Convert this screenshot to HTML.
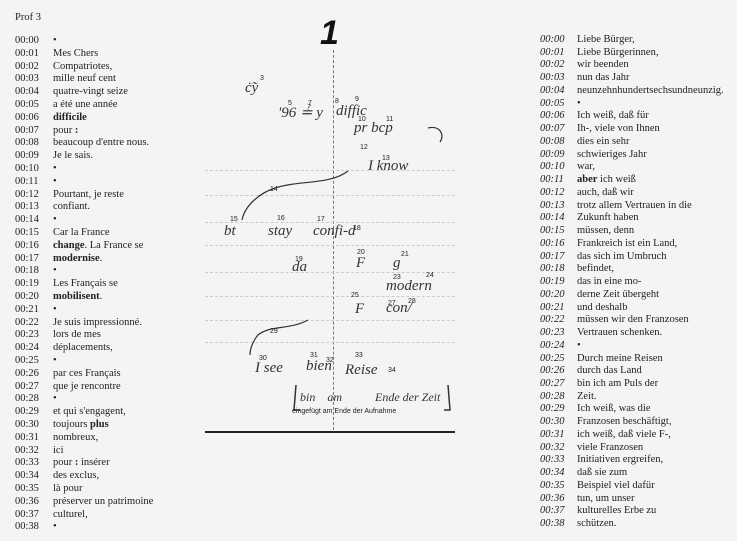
<!DOCTYPE html>
<html><head><meta charset="utf-8"><style>
body{margin:0;width:737px;height:541px;background:#f4f4f4;position:relative;overflow:hidden;font-family:"Liberation Serif",serif;color:#222}
.t{position:absolute;font-size:10.5px;line-height:12px;white-space:nowrap}
.h{position:absolute;font-family:"Liberation Serif",serif;font-style:italic;font-size:15px;color:#333;white-space:nowrap}
.n{position:absolute;font-family:"Liberation Sans",sans-serif;font-size:7px;color:#222}
.dl{position:absolute;left:205px;width:250px;border-top:1px dashed #ccc}
</style></head><body>
<div class="t" style="left:15px;top:12px">Prof 3</div>
<div id="L"></div><div id="R"></div>
<div style="position:absolute;left:333px;top:50px;height:380px;border-left:1px dashed #777"></div>
<div style="position:absolute;left:205px;top:431px;width:250px;border-top:2px solid #222"></div>
<div class="dl" style="top:170px"></div><div class="dl" style="top:195px"></div><div class="dl" style="top:222px"></div><div class="dl" style="top:245px"></div><div class="dl" style="top:272px"></div><div class="dl" style="top:296px"></div><div class="dl" style="top:320px"></div><div class="dl" style="top:342px"></div>
<div style="position:absolute;left:320px;top:14px;font-family:'Liberation Sans',sans-serif;font-size:34px;font-weight:bold;font-style:italic;color:#111">1</div>
<svg style="position:absolute;left:0;top:0" width="737" height="541" fill="none" stroke="#333" stroke-width="1.2">
<path d="M348,171 C330,185 300,180 275,188 C260,193 245,205 242,220"/>
<path d="M308,320 C290,330 270,325 258,335 C252,342 250,350 250,355"/>
<path d="M428,128 C440,125 445,135 440,142"/>
<path d="M296,385 L294,410 L300,410 M448,385 L450,410 L444,410" stroke-width="1.5"/>
</svg>
<div class="h" style="left:245px;top:80px">ċ̃y</div><div class="n" style="left:260px;top:75px">3</div>
<div class="h" style="left:278px;top:103px">'96 ≟ y</div><div class="n" style="left:288px;top:100px">5</div><div class="n" style="left:308px;top:100px">7</div>
<div class="h" style="left:336px;top:103px">diffic</div><div class="n" style="left:335px;top:98px">8</div><div class="n" style="left:355px;top:96px">9</div>
<div class="h" style="left:354px;top:120px">pr bcp</div><div class="n" style="left:358px;top:116px">10</div><div class="n" style="left:386px;top:116px">11</div>
<div class="n" style="left:360px;top:144px">12</div><div class="h" style="left:368px;top:158px">I know</div><div class="n" style="left:382px;top:155px">13</div>
<div class="n" style="left:270px;top:186px">14</div>
<div class="h" style="left:224px;top:223px">bt</div><div class="n" style="left:230px;top:216px">15</div>
<div class="h" style="left:268px;top:223px">stay</div><div class="n" style="left:277px;top:215px">16</div>
<div class="h" style="left:313px;top:223px">confi-d</div><div class="n" style="left:317px;top:216px">17</div><div class="n" style="left:353px;top:225px">18</div>
<div class="h" style="left:292px;top:259px">da</div><div class="n" style="left:295px;top:256px">19</div>
<div class="h" style="left:356px;top:255px">F</div><div class="n" style="left:357px;top:249px">20</div>
<div class="h" style="left:393px;top:255px">g</div><div class="n" style="left:401px;top:251px">21</div>
<div class="h" style="left:386px;top:278px">modern</div><div class="n" style="left:393px;top:274px">23</div><div class="n" style="left:426px;top:272px">24</div>
<div class="h" style="left:355px;top:301px">F</div><div class="n" style="left:351px;top:292px">25</div>
<div class="h" style="left:386px;top:300px">con/</div><div class="n" style="left:388px;top:300px">27</div><div class="n" style="left:408px;top:298px">28</div>
<div class="n" style="left:270px;top:328px">29</div>
<div class="h" style="left:255px;top:360px">I see</div><div class="n" style="left:259px;top:355px">30</div>
<div class="h" style="left:306px;top:358px">bien</div><div class="n" style="left:310px;top:352px">31</div><div class="n" style="left:326px;top:357px">32</div>
<div class="h" style="left:345px;top:362px">Reise</div><div class="n" style="left:355px;top:352px">33</div><div class="n" style="left:388px;top:367px">34</div>
<div class="h" style="left:300px;top:390px;font-size:12px">bin &nbsp;&nbsp;&nbsp;am &nbsp;&nbsp;&nbsp;&nbsp;&nbsp;&nbsp;&nbsp;&nbsp;&nbsp;&nbsp;Ende der Zeit</div>
<div style="position:absolute;left:292px;top:408px;font-family:'Liberation Sans',sans-serif;font-size:7px">eingefügt am Ende der Aufnahme</div>
<script>
var L=["•","Mes Chers","Compatriotes,","mille neuf cent","quatre-vingt seize","a été une année","<b>difficile</b>","pour <b>:</b>","beaucoup d'entre nous.","Je le sais.","•","•","Pourtant, je reste","confiant.","•","Car la France","<b>change</b>. La France se","<b>modernise</b>.","•","Les Français se","<b>mobilisent</b>.","•","Je suis impressionné.","lors de mes","déplacements,","•","par ces Français","que je rencontre","•","et qui s'engagent,","toujours <b>plus</b>","nombreux,","ici","pour <b>:</b> insérer","des exclus,","là pour","préserver un patrimoine","culturel,","•"];
var R=["Liebe Bürger,","Liebe Bürgerinnen,","wir beenden","nun das Jahr","neunzehnhundertsechsundneunzig.","•","Ich weiß, daß für","Ih-, viele von Ihnen","dies ein sehr","schwieriges Jahr","war,","<b>aber</b> ich weiß","auch, daß wir","trotz allem Vertrauen in die","Zukunft haben","müssen, denn","Frankreich ist ein Land,","das sich im Umbruch","befindet,","das in eine mo-","derne Zeit übergeht","und deshalb","müssen wir den Franzosen","Vertrauen schenken.","•","Durch meine Reisen","durch das Land","bin ich am Puls der","Zeit.","Ich weiß, was die","Franzosen beschäftigt,","ich weiß, daß viele F-,","viele Franzosen","Initiativen ergreifen,","daß sie zum","Beispiel viel dafür","tun, um unser","kulturelles Erbe zu","schützen."];
var h="";
function p(i){return "00:"+(i<10?"0":"")+i}
L.forEach(function(s,i){var y=35+12.8*i;h+='<div class="t" style="left:15px;top:'+y+'px">'+p(i)+'</div><div class="t" style="left:53px;top:'+y+'px">'+s+'</div>';});
R.forEach(function(s,i){var y=34+12.74*i;h+='<div class="t" style="left:540px;top:'+y+'px;font-style:italic">'+p(i)+'</div><div class="t" style="left:577px;top:'+y+'px">'+s+'</div>';});
document.getElementById("L").innerHTML=h;
</script>
</body></html>
